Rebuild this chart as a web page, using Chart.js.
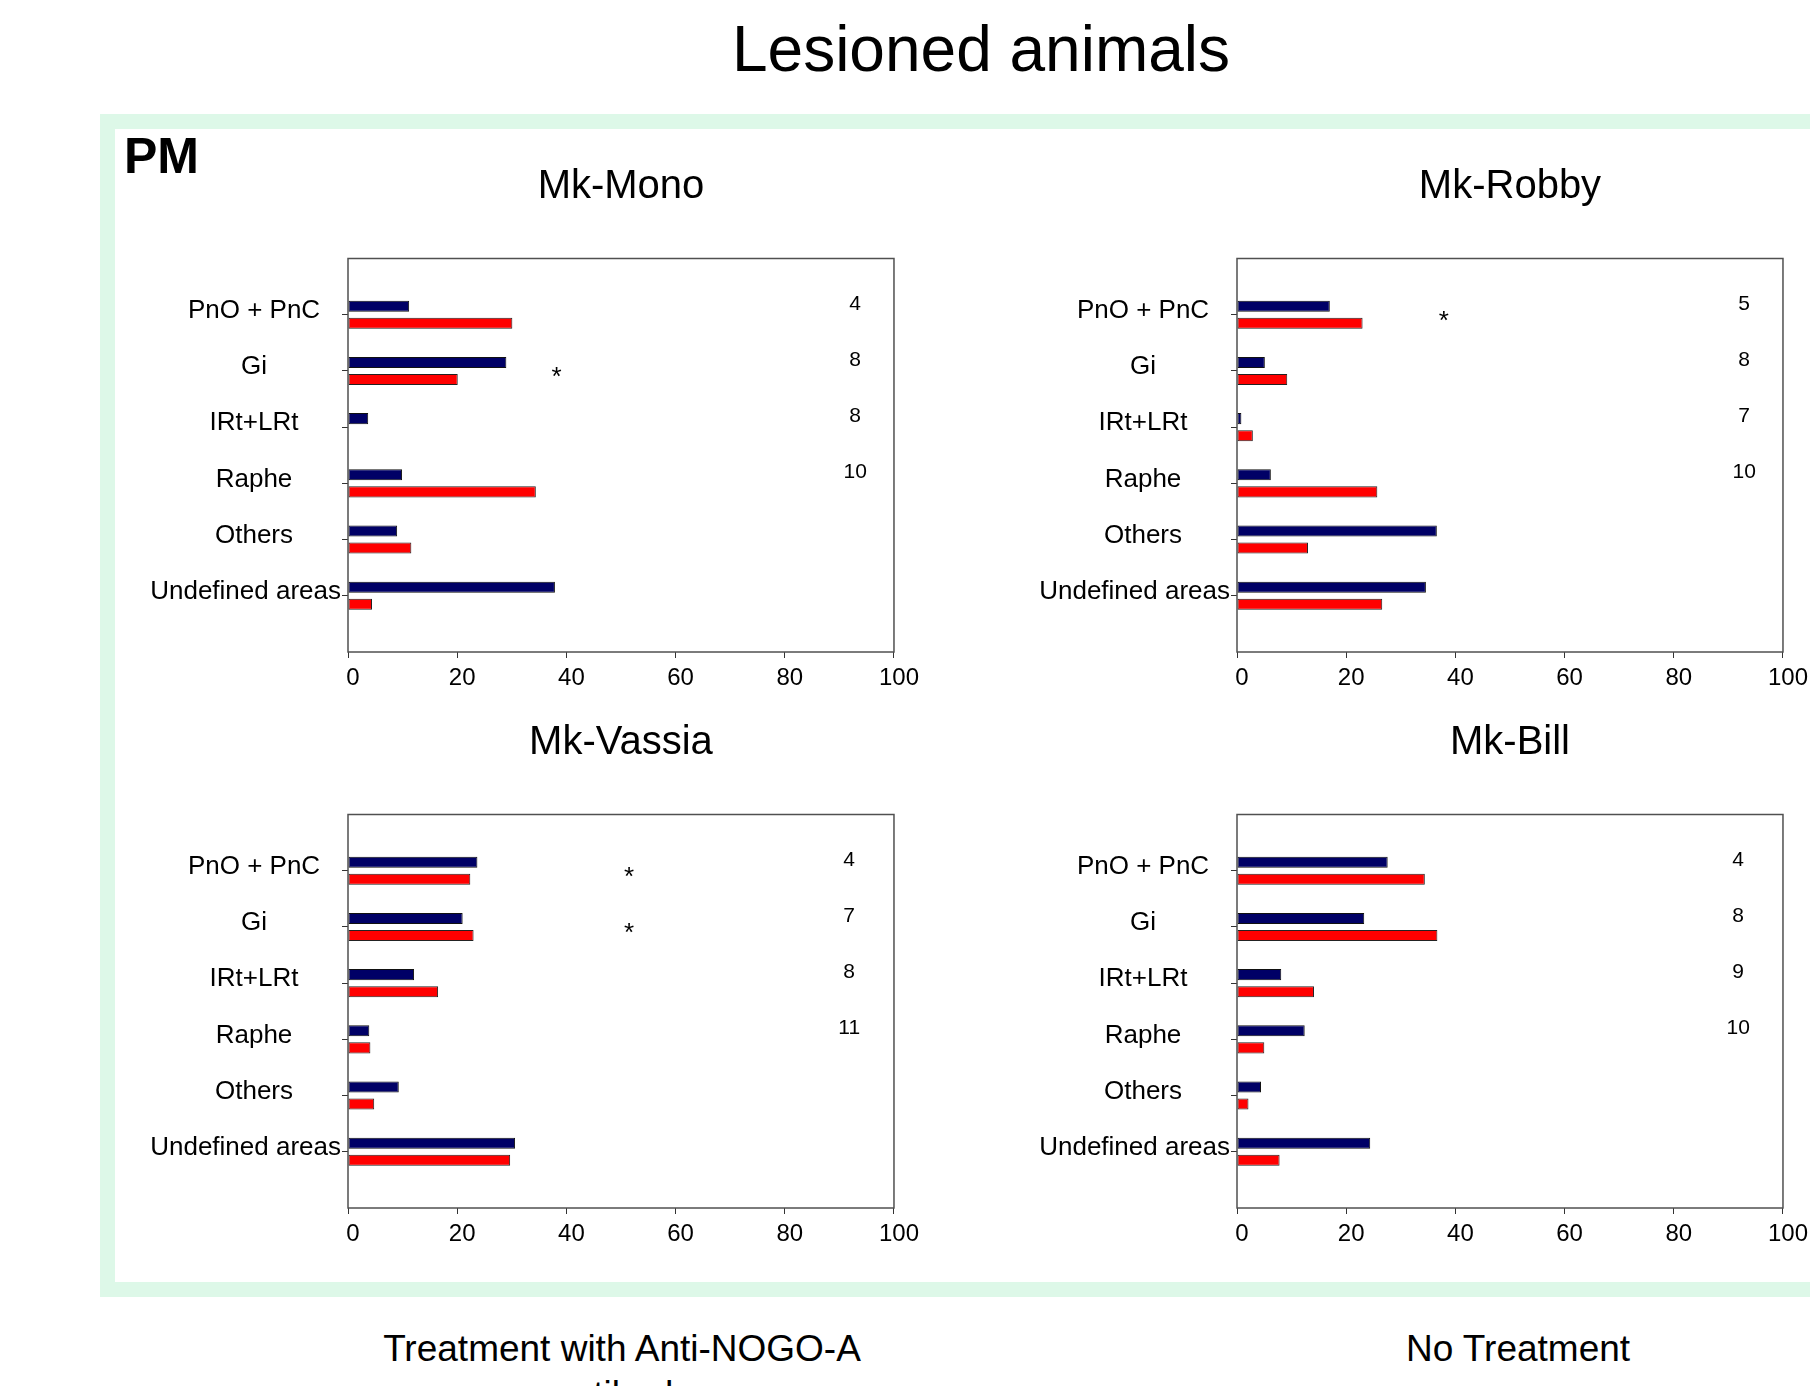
<!DOCTYPE html>
<html>
<head>
<meta charset="utf-8">
<script src="https://cdn.jsdelivr.net/npm/chart.js@4.4.0/dist/chart.umd.min.js"></script>
<style>
  html, body { margin: 0; padding: 0; }
  body { width: 1810px; height: 1386px; overflow: hidden; background: #fff; position: relative;
         font-family: "Liberation Sans", Arial, sans-serif; color: #000; }
  .abs { position: absolute; }
  #frame { left: 100px; top: 114px; width: 1760px; height: 1183px; box-sizing: border-box;
           border: 15px solid #ddf8e8; }
  #mainTitle { left: 0; top: 17px; width: 1962px; text-align: center; font-size: 64px; line-height: 64px; }
  #pm { left: 124px; top: 131px; font-size: 50px; font-weight: bold; line-height: 50px; }
  .foot { top: 1326px; width: 800px; text-align: center; font-size: 37px; line-height: 46px; }
  canvas { position: absolute; }
</style>
</head>
<body>
<div id="frame" class="abs"></div>
<div id="mainTitle" class="abs">Lesioned animals</div>
<div id="pm" class="abs">PM</div>
<canvas id="c1" width="800" height="580" style="left:120px;top:140px"></canvas>
<canvas id="c2" width="800" height="580" style="left:1009px;top:140px"></canvas>
<canvas id="c3" width="800" height="580" style="left:120px;top:696px"></canvas>
<canvas id="c4" width="800" height="580" style="left:1009px;top:696px"></canvas>
<div class="abs foot" style="left:222px">Treatment with Anti-NOGO-A<br>antibody</div>
<div class="abs foot" style="left:1118px">No Treatment</div>

<script>
// brain regions, top to bottom
const categories = ['PnO + PnC', 'Gi', 'IRt+LRt', 'Raphe', 'Others', 'Undefined areas'];
const xTicks = [0, 20, 40, 60, 80, 100];

// values (%)
const monoNavy = [11.2, 29.0, 3.7, 9.9, 9.0, 37.9];
const monoRed = [30.1, 20.1, 0, 34.4, 11.6, 4.4];
const robbyNavy = [17.0, 5.1, 0.8, 6.2, 36.6, 34.6];
const robbyRed = [23.0, 9.2, 2.9, 25.7, 13.0, 26.6];
const vassiaNavy = [23.7, 21.0, 12.1, 3.9, 9.3, 30.6];
const vassiaRed = [22.4, 23.0, 16.5, 4.1, 4.8, 29.7];
const billNavy = [27.6, 23.3, 8.1, 12.4, 4.4, 24.4];
const billRed = [34.4, 36.7, 14.1, 5.0, 2.1, 7.8];

// numbers written at the right of each panel
const monoCounts = [4, 8, 8, 10];
const robbyCounts = [5, 8, 7, 10];
const vassiaCounts = [4, 7, 8, 11];
const billCounts = [4, 8, 9, 10];

// regions marked with an asterisk
const monoStars = ['Gi'];
const robbyStars = ['PnO + PnC'];
const vassiaStars = ['PnO + PnC', 'Gi'];
const billStars = [];

Chart.defaults.font.family = '"Liberation Sans", Arial, sans-serif';
Chart.defaults.color = '#000';

const FONT = '"Liberation Sans", Arial, sans-serif';

// box round the plot, region names, counts and asterisks
const extras = {
    id: 'extras',
    afterDatasetsDraw(chart, args, opts) {
        const { ctx, chartArea: a, scales: { x, y } } = chart;
        ctx.save();
        ctx.strokeStyle = '#505050';
        ctx.lineWidth = 1.5;
        ctx.strokeRect(a.left, a.top, a.right - a.left, a.bottom - a.top);

        ctx.fillStyle = '#000';
        ctx.textBaseline = 'middle';

        // region names: centred on one line, pushed left when too wide
        ctx.font = '26px ' + FONT;
        ctx.textAlign = 'center';
        categories.forEach(function(c, i) {
            const w = ctx.measureText(c).width;
            const cx = Math.min(a.left - 94, a.left - 7 - w / 2);
            ctx.fillText(c, cx, y.getPixelForValue(i + 1) - 4);
        });

        ctx.font = '21px ' + FONT;
        opts.counts.forEach(function(n, i) {
            ctx.fillText(String(n), x.getPixelForValue(opts.countX), y.getPixelForValue(i + 1 - 0.19));
        });
        ctx.font = '26px ' + FONT;
        opts.stars.forEach(function(c) {
            const i = categories.indexOf(c) + 1;
            ctx.fillText('*', x.getPixelForValue(opts.starX), y.getPixelForValue(i) + 7);
        });
        ctx.restore();
    }
};

function pad(arr) {
    return [null].concat(arr, [null]);
}

function makePanel(id, title, navy, red, counts, stars, starX, countX) {
    const labels = [''].concat(categories, ['']);
    const last = labels.length - 1;
    return new Chart(document.getElementById(id), {
        type: 'bar',
        data: {
            labels: labels,
            datasets: [
                {
                    data: pad(navy),
                    backgroundColor: '#000066',
                    borderColor: '#111',
                    borderWidth: 1,
                    borderSkipped: false,
                    categoryPercentage: 0.606,
                    barPercentage: 0.647
                },
                {
                    data: pad(red),
                    backgroundColor: '#ff0000',
                    borderColor: '#222',
                    borderWidth: 1,
                    borderSkipped: false,
                    categoryPercentage: 0.606,
                    barPercentage: 0.647
                }
            ]
        },
        options: {
            indexAxis: 'y',
            responsive: false,
            animation: false,
            layout: { padding: { left: 0, right: 25, top: 0, bottom: 0 } },
            scales: {
                y: {
                    offset: false,
                    grid: {
                        offset: false,
                        drawOnChartArea: false,
                        tickLength: 6,
                        color: function(ctx) {
                            return (ctx.index === 0 || ctx.index === last) ? 'rgba(0,0,0,0)' : '#333';
                        }
                    },
                    border: { display: false },
                    ticks: { display: false, autoSkip: false },
                    afterFit: function(scale) { scale.width = 228; }
                },
                x: {
                    min: 0,
                    max: 100,
                    grid: { drawOnChartArea: false, tickLength: 6, color: '#333' },
                    border: { display: false },
                    ticks: { padding: 6, labelOffset: 5, font: { size: 24 }, color: '#000' },
                    afterBuildTicks: function(scale) {
                        scale.ticks = xTicks.map(function(v) { return { value: v }; });
                    },
                    afterFit: function(scale) { scale.height = 68; }
                }
            },
            plugins: {
                legend: { display: false },
                tooltip: { enabled: false },
                title: {
                    display: true,
                    text: title,
                    fullSize: false,
                    color: '#000',
                    font: { size: 40, weight: 'normal' },
                    padding: { top: 23.4, bottom: 47.1 }
                },
                extras: { counts: counts, stars: stars, starX: starX, countX: countX }
            }
        },
        plugins: [extras]
    });
}

makePanel('c1', 'Mk-Mono', monoNavy, monoRed, monoCounts, monoStars, 38.2, 92.9);
makePanel('c2', 'Mk-Robby', robbyNavy, robbyRed, robbyCounts, robbyStars, 37.9, 92.9);
makePanel('c3', 'Mk-Vassia', vassiaNavy, vassiaRed, vassiaCounts, vassiaStars, 51.5, 91.8);
makePanel('c4', 'Mk-Bill', billNavy, billRed, billCounts, billStars, 0, 91.8);
</script>
</body>
</html>
